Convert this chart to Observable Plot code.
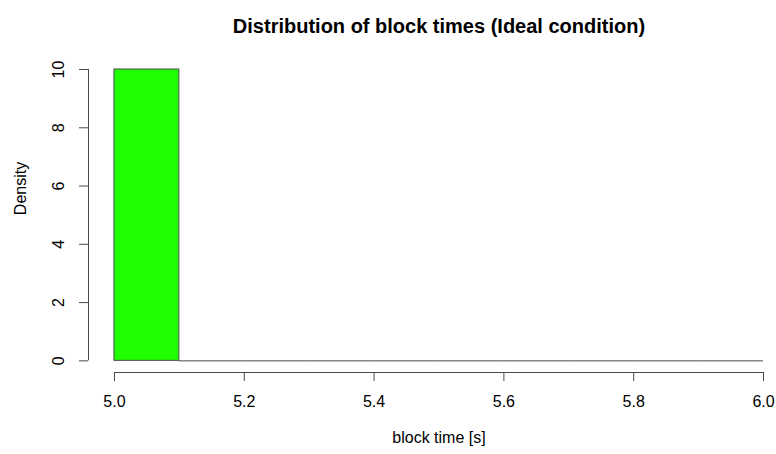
<!DOCTYPE html>
<html>
<head>
<meta charset="utf-8">
<script src="https://cdn.jsdelivr.net/npm/d3@7"></script>
<script src="https://cdn.jsdelivr.net/npm/@observablehq/plot@0.6"></script>
<style>
  html, body { margin: 0; padding: 0; background: #fff; }
</style>
</head>
<body>
<div id="chart"></div>
<script>
const title = "Distribution of block times (Ideal condition)";
const xLabel = "block time [s]";
const yLabel = "Density";
const binStarts = [5.0, 5.1, 5.2, 5.3, 5.4, 5.5, 5.6, 5.7, 5.8, 5.9];
const binEnds   = [5.1, 5.2, 5.3, 5.4, 5.5, 5.6, 5.7, 5.8, 5.9, 6.0];
const density   = [10, 0, 0, 0, 0, 0, 0, 0, 0, 0];
const xTicks = [5.0, 5.2, 5.4, 5.6, 5.8, 6.0];
const yTicks = [0, 2, 4, 6, 8, 10];

const bins = binStarts.map((s, i) => ({x1: s, x2: binEnds[i], y: density[i]}));
const xMin = 5.0, xMax = 6.0, yMax = 10;
// R-style 4% axis extension
const xLo = xMin - 0.04 * (xMax - xMin);
const yLo = -0.04 * yMax;
const ink = "#4a4a4a";

const chart = Plot.plot({
  width: 776,
  height: 454,
  marginLeft: 88,
  marginRight: 13,
  marginTop: 69,
  marginBottom: 82,
  style: {fontFamily: "'Liberation Sans', Arial, Helvetica, sans-serif", fontSize: "16px", color: "#000", background: "#fff"},
  x: {domain: [xLo, xMax]},
  y: {domain: [yLo, yMax]},
  marks: [
    Plot.rect(bins.filter(d => d.y > 0), {x1: "x1", x2: "x2", y1: 0, y2: "y", fill: "#1fff00", stroke: ink, strokeWidth: 1}),
    Plot.ruleY(bins.filter(d => d.y === 0), {x1: "x1", x2: "x2", y: 0, stroke: ink, strokeWidth: 1}),
    // x axis
    Plot.ruleY([yLo], {x1: xTicks[0], x2: xTicks[xTicks.length - 1], stroke: ink}),
    Plot.axisX({ticks: xTicks, tickSize: 9, tickPadding: 14, tickFormat: d3.format(".1f"), stroke: ink, fill: "#000", label: null, fontSize: 16}),
    // y axis
    Plot.ruleX([xLo], {y1: yTicks[0], y2: yTicks[yTicks.length - 1], stroke: ink}),
    Plot.axisY({ticks: yTicks, tickSize: 9, tickFormat: () => "", stroke: ink, label: null}),
    Plot.text(yTicks, {x: xLo, y: d => d, text: d => String(d), rotate: -90, dx: -30, fontSize: 16, fill: "#000"}),
    // titles
    Plot.text([title], {x: (xMin + xMax) / 2, frameAnchor: "top", dy: -51, text: d => d, fontSize: 20, fontWeight: "bold", fill: "#000"}),
    Plot.text([xLabel], {x: (xMin + xMax) / 2, frameAnchor: "bottom", dy: 70, text: d => d, fontSize: 16, fill: "#000"}),
    Plot.text([yLabel], {y: yMax / 2, frameAnchor: "left", dx: -68, rotate: -90, text: d => d, fontSize: 16, fill: "#000"})
  ]
});
document.getElementById("chart").appendChild(chart);
</script>
</body>
</html>
